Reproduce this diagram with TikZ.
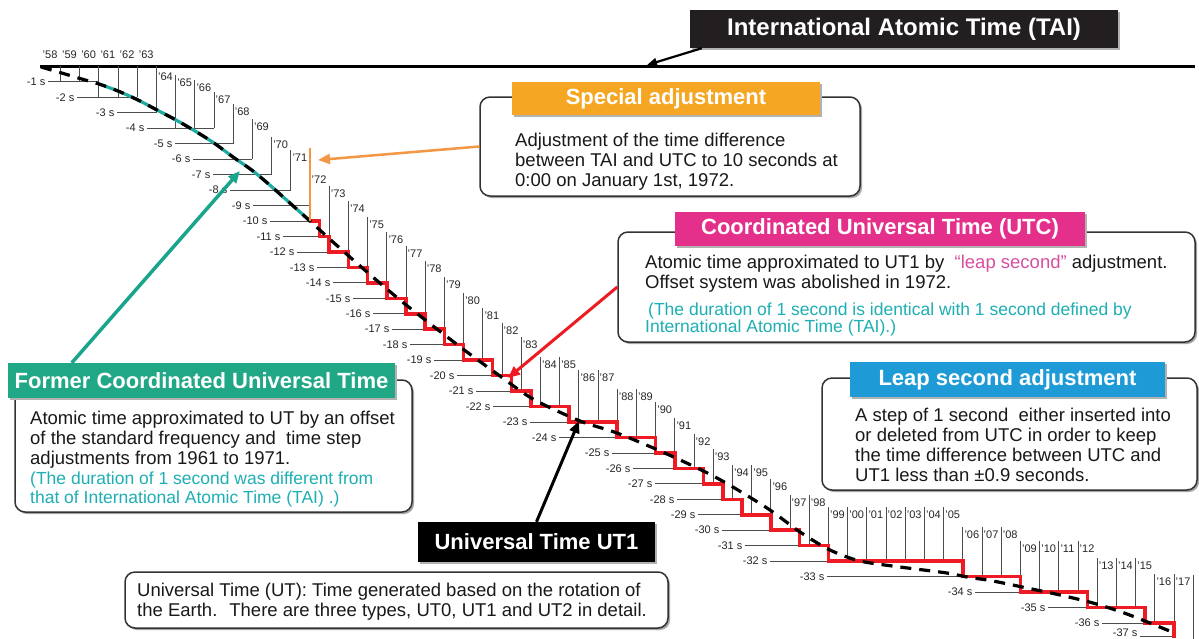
\documentclass[tikz,border=0pt]{standalone}
\usepackage{fontspec}
\setmainfont{Liberation Sans}
\usetikzlibrary{shadows,arrows.meta}
\definecolor{orangeH}{RGB}{245,166,35}
\definecolor{orangeL}{RGB}{243,150,70}
\definecolor{magH}{RGB}{228,48,138}
\definecolor{tealH}{RGB}{32,168,134}
\definecolor{blueH}{RGB}{30,155,215}
\definecolor{tealtxt}{RGB}{30,175,180}
\definecolor{pinktxt}{RGB}{214,80,160}
\definecolor{redL}{RGB}{237,28,36}
\definecolor{tealC}{RGB}{30,170,160}
\definecolor{tealA}{RGB}{25,165,140}
\definecolor{taiBox}{RGB}{35,31,32}
\begin{document}
\begin{tikzpicture}[x=1pt,y=-1pt,
  grid/.style={draw=black!70, line width=0.8pt},
  yrlab/.style={font=\fontsize{11}{11}\selectfont, text=black!85, inner sep=0pt, anchor=west},
  seclab/.style={font=\fontsize{11}{11}\selectfont, text=black!85, inner xsep=2.5pt, inner ysep=0pt, anchor=east},
  bodybox/.style={draw=black!80, line width=1.5pt, rounded corners=10pt, fill=white,
     general shadow={fill=black!35, shadow xshift=2pt, shadow yshift=-2pt}},
  hdr/.style={text=white, font=\bfseries\fontsize{22}{22}\selectfont, inner sep=0pt,
     general shadow={fill=black!30, shadow xshift=2pt, shadow yshift=-2pt}},
  body/.style={font=\fontsize{18.5}{20}\selectfont, anchor=base west, inner sep=0pt, text=black!90},
  tealbody/.style={body, text=tealtxt, font=\fontsize{17.5}{20}\selectfont},
  ut1curve/.style={line width=3.2pt, dash pattern=on 11pt off 8pt},
  arrowline/.style={line width=3pt, -{Triangle[length=12pt,width=10pt]}},
]
\useasboundingbox[fill=white] (0,0) rectangle (1199,638);

% TAI line
\draw[line width=3pt] (40,66) -- (1195,66);

% seconds levels
\foreach \n/\xs/\ye in {1/48/1961, 2/77/1963, 3/117/1964, 4/147/1967, 5/175/1968, 6/193/1969,
  7/213/1970, 8/230/1971, 9/253/1972, 10/270/1972, 11/283/1972.5, 12/297/1973, 13/317/1974,
  14/333/1975, 15/353/1976, 16/373/1977, 17/392/1978, 18/410/1979, 19/434/1980, 20/457/1981.5,
  21/476/1982.5, 22/493/1983.5, 23/530/1985.5, 24/559/1988, 25/612/1990, 26/633/1991,
  27/655/1992.5, 28/677/1993.5, 29/698/1994.5, 30/722/1996, 31/745/1997.5, 32/770/1999,
  33/827/2006, 34/975/2009, 35/1048/2012.5, 36/1102/2015.5}{
  \pgfmathsetmacro\yy{66.4+15.46*\n}
  \pgfmathsetmacro\xe{310+19.2*(\ye-1972)}
  \node[seclab] (s\n) at (\xs,\yy) {-\n\ s};
  \draw[grid] (s\n.east) -- (\xe,\yy);
}
\node[seclab] (s37) at (1140,633) {-37 s};
\draw[grid] (1140,636.5) -- (1174,636.5);

% years before 1972
\node[yrlab] (y58) at (42.5,55) {’58};
\foreach \lab/\ly/\tp/\lv in {59/55/66/1, 60/55/66/1, 61/55/66/2, 62/55/66/2, 63/55/66/2,
  64/77/66/3, 65/83/75/4, 66/88/80/4, 67/100/92/4, 68/112/104/5, 69/127/119/6,
  70/145/137/7, 71/158/150/8}{
  \pgfmathsetmacro\xx{310+19.2*(\lab+1900-1972)}
  \pgfmathsetmacro\yb{66.4+15.46*\lv}
  \draw[grid] (\xx,\tp) -- (\xx,\yb);
  \node[yrlab] (y\lab) at (\xx+1.5,\ly) {’\lab};
}
\node[yrlab] (y72) at (311.5,180) {’72};

% years from 1973
\foreach \lab/\yr/\ly/\lv in {73/1973/194/12, 74/1974/209/13, 75/1975/225/14, 76/1976/240/15,
  77/1977/254/16, 78/1978/269/17, 79/1979/285/18, 80/1980/301/19, 81/1981/316/19,
  82/1982/331/20, 83/1983/345/21, 84/1984/365/22, 85/1985/365/22, 86/1986/378/23,
  87/1987/378/23, 88/1988/397/24, 89/1989/397/24, 90/1990/410/25, 91/1991/426/26,
  92/1992/442/26, 93/1993/457/27, 94/1994/473/28, 95/1995/473/29, 96/1996/487/30,
  97/1997/503/30, 98/1998/503/31, 99/1999/515/32, 00/2000/515/32, 01/2001/515/32,
  02/2002/515/32, 03/2003/515/32, 04/2004/515/32, 05/2005/515/32, 06/2006/535/33,
  07/2007/535/33, 08/2008/535/33, 09/2009/549/34, 10/2010/549/34, 11/2011/549/34,
  12/2012/549/34, 13/2013/566/35, 14/2014/566/35, 15/2015/566/35, 16/2016/582/36,
  17/2017/582/37}{
  \pgfmathsetmacro\xx{310+19.2*(\yr-1972)}
  \pgfmathsetmacro\yb{66.4+15.46*\lv}
  \draw[grid] (\xx,\ly-8) -- (\xx,\yb);
  \node[yrlab] (y\lab) at (\xx+1.5,\ly) {’\lab};
}
\draw[grid] (1193.6,575) -- (1193.6,640);

% UTC staircase
\draw[redL, line width=3.5pt, line join=miter] (310,{66.4+15.46*10})
  \foreach \d/\n in {1972.5/11, 1973/12, 1974/13, 1975/14, 1976/15, 1977/16, 1978/17,
    1979/18, 1980/19, 1981.5/20, 1982.5/21, 1983.5/22, 1985.5/23, 1988/24, 1990/25,
    1991/26, 1992.5/27, 1993.5/28, 1994.5/29, 1996/30, 1997.5/31, 1999/32, 2006/33,
    2009/34, 2012.5/35, 2015.5/36, 2017/37}
  { -| ({310+19.2*(\d-1972)},{66.4+15.46*\n}) };

% former UTC (teal) and UT1 (dashed)
\draw[tealC, line width=3.2pt] plot[smooth, tension=0.5] coordinates {
  (99,84) (118,91) (138,100) (157,110) (176,120) (195,131) (214,143) (233,157)
  (253,171) (272,187) (291,204) (310,221)};
\draw[ut1curve] plot[smooth, tension=0.5] coordinates {
  (41,67) (60,72.5) (80,78.5) (99,84) (118,91) (138,100) (157,110) (176,120) (195,131)
  (214,143) (233,157) (253,171) (272,187) (291,204) (310,221) (333,242) (367,272)
  (400,300) (433,326) (467,352) (500,376) (533,399) (580,421) (617,433) (667,454)
  (717,478) (767,508) (800,532) (830,550) (860,561) (900,567) (947,573) (967,577)
  (993,581) (1027,588) (1060,595) (1093,603) (1127,614) (1172,632)};

% special adjustment mark
\draw[orangeL, line width=2.5pt] (310,148) -- (310,221);

% ---- boxes ----
\node[fill=taiBox, text=white, font=\bfseries\fontsize{24}{24}\selectfont, inner sep=0pt,
  minimum width=428pt, minimum height=38pt,
  general shadow={fill=black!30, shadow xshift=2pt, shadow yshift=-2pt}]
  (tai) at (904,29) {International Atomic Time (TAI)};
\coordinate (taiP) at (647,65);
\draw[line width=2.2pt, -{Triangle[length=10pt,width=8pt]}] ([xshift=12pt]tai.south west) -- (taiP);

% special adjustment
\node[bodybox, minimum width=380pt, minimum height=99pt] (spb) at (670,146.5) {};
\node[hdr, fill=orangeH, minimum width=308pt, minimum height=33pt] (sph) at (666,98.5) {Special adjustment};
\node[body] (sp1) at (515,146) {Adjustment of the time difference};
\node[body] (sp2) at (515,166) {between TAI and UTC to 10 seconds at};
\node[body] (sp3) at (515,186) {0:00 on January 1st, 1972.};
\coordinate (spP) at (318,160);
\draw[arrowline, orangeL, line width=2.5pt] (spb.west) -- (spP);

% UTC
\node[bodybox, minimum width=577pt, minimum height=110pt] (utb) at (906.5,287) {};
\node[hdr, fill=magH, minimum width=410pt, minimum height=34pt] (uth) at (880,229) {Coordinated Universal Time (UTC)};
\node[body] (u1) at (645,268) {Atomic time approximated to UT1 by \ \textcolor{pinktxt}{“leap second”} adjustment.};
\node[body] (u2) at (645,288) {Offset system was abolished in 1972.};
\node[tealbody] (u3) at (648,315) {(The duration of 1 second is identical with 1 second defined by};
\node[tealbody] (u4) at (645,332) {International Atomic Time (TAI).)};
\coordinate (utP) at (508,378);
\draw[arrowline, redL] (utb.west) -- (utP);

% former UTC
\node[bodybox, minimum width=397pt, minimum height=132pt] (fb) at (213.5,446) {};
\node[hdr, fill=tealH, minimum width=387pt, minimum height=35pt] (fh) at (201.5,380.5) {Former Coordinated Universal Time};
\node[body] (f1) at (30,424) {Atomic time approximated to UT by an offset};
\node[body] (f2) at (30,444) {of the standard frequency and \ time step};
\node[body] (f3) at (30,464) {adjustments from 1961 to 1971.};
\node[tealbody] (f4) at (30,484) {(The duration of 1 second was different from};
\node[tealbody] (f5) at (30,503) {that of International Atomic Time (TAI) .)};
\coordinate (fP) at (240,171);
\draw[arrowline, tealA, line width=3.5pt] ([xshift=64pt]fh.north west) -- (fP);

% leap second
\node[bodybox, minimum width=375pt, minimum height=112pt] (lb) at (1009.5,434) {};
\node[hdr, fill=blueH, minimum width=315pt, minimum height=35pt] (lh) at (1007.5,379.5) {Leap second adjustment};
\node[body] (l1) at (855,421) {A step of 1 second \ either inserted into};
\node[body] (l2) at (855,441) {or deleted from UTC in order to keep};
\node[body] (l3) at (855,461) {the time difference between UTC and};
\node[body] (l4) at (855,481) {UT1 less than ±0.9 seconds.};

% UT1
\node[hdr, fill=black, minimum width=237pt, minimum height=40pt] (ut1) at (536.5,542) {Universal Time UT1};
\coordinate (ut1P) at (579,421);
\draw[arrowline, black] (ut1.north) -- (ut1P);

% bottom note
\node[bodybox, minimum width=543pt, minimum height=56pt] (bb) at (396.5,600) {};
\node[body] (b1) at (137,596) {Universal Time (UT): Time generated based on the rotation of};
\node[body] (b2) at (137,616) {the Earth. \ There are three types, UT0, UT1 and UT2 in detail.};
\end{tikzpicture}
\end{document}
